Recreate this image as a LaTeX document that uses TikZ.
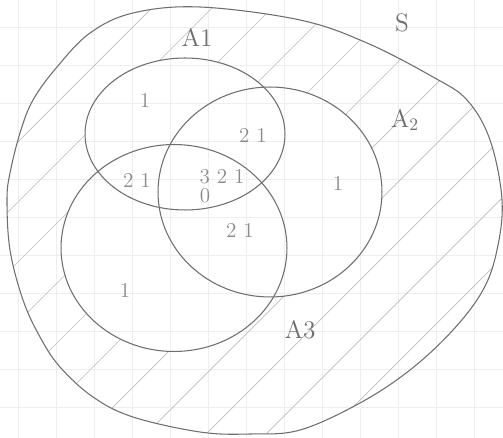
\documentclass[tikz,border=0pt]{standalone}
\usepackage{tikz}
\usetikzlibrary{shapes.geometric}
\definecolor{pencil}{HTML}{6E6E6E}
\definecolor{softpencil}{HTML}{BEBEBE}
\definecolor{paperline}{HTML}{EEEEEE}
\tikzset{
  setline/.style={draw=pencil, line width=0.6pt},
  setnode/.style={ellipse, draw=pencil, line width=0.6pt, inner sep=0pt},
  hatchline/.style={softpencil, line width=0.4pt},
  gridline/.style={paperline, line width=0.4pt},
  setlabel/.style={text=pencil, font=\Large},
  countlabel/.style={text=pencil!80, font=\large}
}
\newcommand{\samplespace}{plot[smooth cycle, tension=0.6] coordinates {
  (200,7) (300,20) (367,43) (433,77) (467,100) (490,140) (502,200)
  (497,250) (483,290) (453,330) (410,370) (360,403) (300,430) (250,434)
  (200,432) (133,417) (93,397) (60,367) (40,337) (23,300) (10,250)
  (7,200) (10,173) (20,133) (33,100) (57,67) (90,33) (133,13)}}
\begin{document}
\begin{tikzpicture}[x=0.02cm, y=-0.02cm]
  \useasboundingbox (0,0) rectangle (503,438);
  \fill[white] (0,0) rectangle (503,438);
  % squared paper
  \foreach \gx in {18,56,...,503} \draw[gridline] (\gx,0) -- (\gx,438);
  \foreach \gy in {27,65,...,438} \draw[gridline] (0,\gy) -- (503,\gy);
  % hatching outside the three sets
  \begin{scope}[even odd rule]
    \clip \samplespace (185,134) ellipse [x radius=2cm, y radius=1.52cm];
    \begin{scope}[even odd rule]
      \clip \samplespace (270,192) ellipse [x radius=2.24cm, y radius=2.1cm];
      \begin{scope}[even odd rule]
        \clip \samplespace (174,248) ellipse [x radius=2.26cm, y radius=2.07cm];
        \foreach \c in {100,160,...,1000} \draw[hatchline] (\c,0) -- (\c-450,450);
      \end{scope}
    \end{scope}
  \end{scope}
  % sets
  \draw[setline] \samplespace;
  \node[setnode, minimum width=4cm, minimum height=3.04cm] (A1) at (185,134) {};
  \node[setnode, minimum width=4.48cm, minimum height=4.2cm] (A2) at (270,192) {};
  \node[setnode, minimum width=4.52cm, minimum height=4.14cm] (A3) at (174,248) {};
  \node[setlabel] (S) at (402,23) {S};
  \node[setlabel] (nA1) at (197,37) {A1};
  \node[setlabel] (nA2) at (405,120) {A\textsubscript{2}};
  \node[setlabel] (nA3) at (300,330) {A3};
  % counts
  \node[countlabel] (one1) at (145,100) {1};
  \node[countlabel] (one2) at (338,183) {1};
  \node[countlabel] (one3) at (125,290) {1};
  \node[countlabel] (two12) at (253,135) {2 1};
  \node[countlabel] (two13) at (137,180) {2 1};
  \node[countlabel] (two23) at (240,230) {2 1};
  \node[countlabel] (three) at (222,177) {3 2 1};
  \node[countlabel] (zero) at (205,196) {0};
\end{tikzpicture}
\end{document}
